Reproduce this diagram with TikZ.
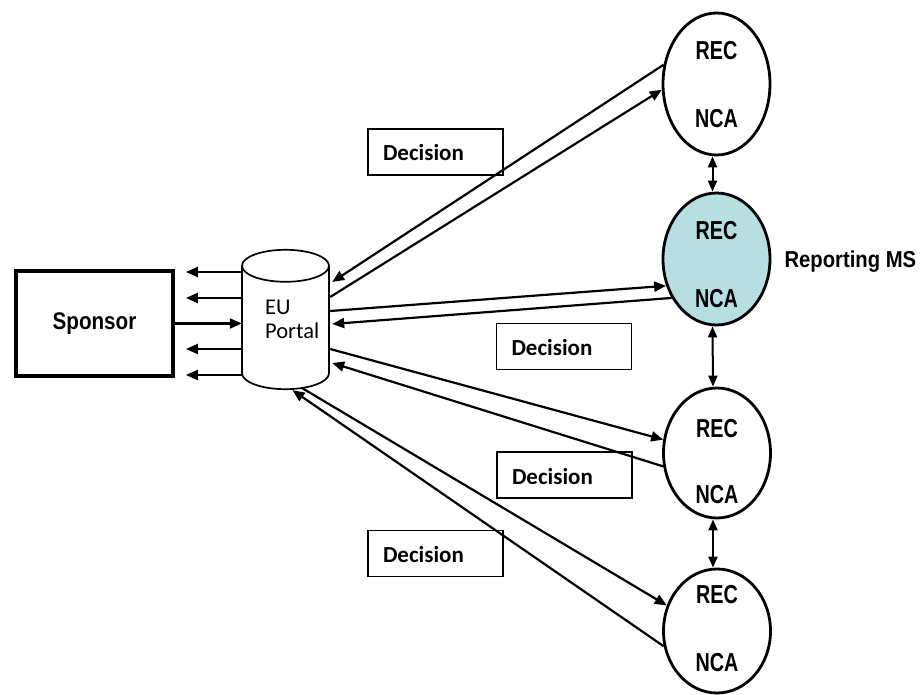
\documentclass[tikz,border=0pt]{standalone}
\usepackage{fontspec}
\usetikzlibrary{shapes.geometric,arrows.meta,calc}
\newfontfamily\recfont{Liberation Sans}[FakeStretch=0.76]
\newfontfamily\msfont{Liberation Sans}[FakeStretch=0.88]
\newfontfamily\spfont{Liberation Sans}[FakeStretch=0.86]
\newfontfamily\calfont{Carlito}
\definecolor{msfill}{RGB}{183,223,226}

\begin{document}
\begin{tikzpicture}[x=1pt,y=-1pt,
  ms/.style={ellipse, draw, line width=2.8pt, inner sep=0pt, minimum width=107pt},
  tag/.style={font=\recfont\bfseries\fontsize{26}{26}\selectfont, inner sep=0pt, anchor=base},
  decbox/.style={draw, line width=1.6pt, text width=105pt, inner xsep=15pt, inner ysep=0pt,
    minimum height=46pt, align=left, text height=18pt, text depth=0pt,
    font=\calfont\bfseries\fontsize{23}{23}\selectfont},
  flow/.style={line width=2.2pt, -{Triangle[length=12pt,width=10pt]}},
  link/.style={line width=2pt, {Triangle[length=11pt,width=9pt]}-{Triangle[length=11pt,width=9pt]}},
  portaltext/.style={font=\calfont\fontsize{22.5}{23}\selectfont, anchor=base west, inner sep=0pt},
]
\useasboundingbox (0,0) rectangle (922,695);

% sponsor
\node[draw, line width=3.8pt, minimum width=157pt, minimum height=105pt,
  font=\spfont\bfseries\fontsize{24}{24}\selectfont] (sponsor) at (94.5,323.5) {Sponsor};

% EU portal (cylinder)
\node[minimum width=87pt, minimum height=139pt, inner sep=0pt] (portal) at (285.5,319.5) {};
\draw[line width=1.7pt, fill=white] ($(portal.south)+(0,-16)$) ellipse[x radius=43.5pt, y radius=16pt];
\fill[white] ($(portal.north west)+(0,16)$) rectangle ($(portal.south east)+(0,-16)$);
\draw[line width=1.7pt] ($(portal.north west)+(0,16)$) -- ($(portal.south west)+(0,-16)$)
  ($(portal.north east)+(0,16)$) -- ($(portal.south east)+(0,-16)$);
\draw[line width=1.7pt, fill=white] ($(portal.north)+(0,16)$) ellipse[x radius=43.5pt, y radius=16pt];
\node[portaltext] (eu) at (265,315) {EU};
\node[portaltext] (eup) at (265,338) {Portal};

% member states
\node[ms, minimum height=142pt] (n1) at (716.5,84) {};
\node[ms, minimum height=132pt, fill=msfill] (n2) at (716.5,259) {};
\node[ms, minimum height=130pt] (n3) at (717,453) {};
\node[ms, minimum height=124pt] (n4) at (717,631) {};

\node[tag] (n1r) at ($(n1.center)+(0,-24)$) {REC};
\node[tag] (n1c) at ($(n1.center)+(0,44)$) {NCA};
\node[tag] (n2r) at ($(n2.center)+(0,-19)$) {REC};
\node[tag] (n2c) at ($(n2.center)+(0,49)$) {NCA};
\node[tag] (n3r) at ($(n3.center)+(0,-16)$) {REC};
\node[tag] (n3c) at ($(n3.center)+(0,50)$) {NCA};
\node[tag] (n4r) at ($(n4.center)+(0,-28)$) {REC};
\node[tag] (n4c) at ($(n4.center)+(0,40)$) {NCA};

\node[font=\msfont\bfseries\fontsize{23}{23}\selectfont, anchor=base west, inner sep=0pt]
  (rms) at ($(n2.east)+(13,9)$) {Reporting MS};

% decision labels
\node[decbox] (d1) at (435.5,152) {Decision};
\node[decbox] (d2) at (564,346.5) {Decision};
\node[decbox] (d3) at (564.5,475) {Decision};
\node[decbox] (d4) at (435.5,553.5) {Decision};

% portal <-> member states
\draw[flow] (n1.160.4) -- ($(portal.east)+(3,-37.5)$);
\draw[flow] ($(portal.east)+(1,-22.5)$) -- (n1.186.3);
\draw[flow] ($(portal.east)+(1,-8.5)$) -- (n2.208.3);
\draw[flow] (n2.221.2) -- ($(portal.east)+(3,4.5)$);
\draw[flow] ($(portal.east)+(1,29.5)$) -- (n3.166.7);
\draw[flow] (n3.194.5) -- ($(portal.east)+(3,43.5)$);
\draw[flow] ($(portal.south)+(16,-1.5)$) -- (n4.153.9);
\draw[flow] (n4.196.5) -- ($(portal.south)+(7,1)$);

% sponsor <-> portal
\foreach \dy in {-47.5,-21.5,29.5,55.5}
  \draw[flow] ($(portal.west)+(0,\dy)$) -- ($(sponsor.east|-portal.west)+(11,\dy)$);
\draw[flow] (sponsor.east) -- (sponsor.east -| portal.west);

% links between member states
\draw[link] ($(n1.south)+(-4,0)$) -- ($(n2.north)+(-4,0)$);
\draw[link] ($(n2.south)+(-4,0)$) -- ($(n3.north)+(-4,0)$);
\draw[link] ($(n3.south)+(-4,0)$) -- ($(n4.north)+(-4,0)$);
\end{tikzpicture}
\end{document}
